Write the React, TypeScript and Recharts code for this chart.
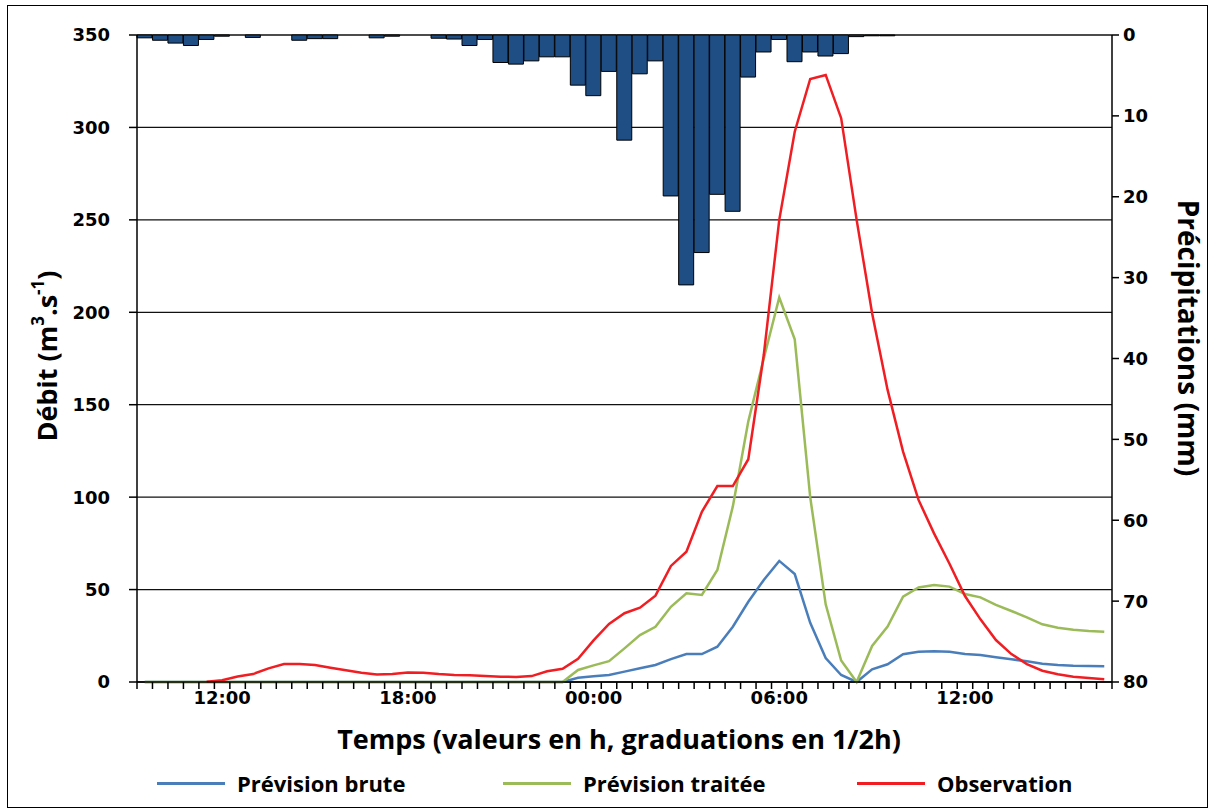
import React from 'react';
import { ComposedChart, Bar, Line, XAxis, YAxis, CartesianGrid, Legend } from 'recharts';

const times = [
  '09:30', '10:00', '10:30', '11:00', '11:30', '12:00', '12:30', '13:00', '13:30', '14:00',
  '14:30', '15:00', '15:30', '16:00', '16:30', '17:00', '17:30', '18:00', '18:30', '19:00',
  '19:30', '20:00', '20:30', '21:00', '21:30', '22:00', '22:30', '23:00', '23:30', '00:00',
  '00:30', '01:00', '01:30', '02:00', '02:30', '03:00', '03:30', '04:00', '04:30', '05:00',
  '05:30', '06:00', '06:30', '07:00', '07:30', '08:00', '08:30', '09:00', '09:30', '10:00',
  '10:30', '11:00', '11:30', '12:00', '12:30', '13:00', '13:30', '14:00', '14:30', '15:00',
  '15:30', '16:00', '16:30',
];

// Précipitations (mm) per half hour
const precipitation = [
  0.35, 0.65, 1.0, 1.3, 0.55, 0.15, 0, 0.3, 0, 0,
  0.65, 0.45, 0.45, 0, 0, 0.35, 0.15, 0, 0, 0.4,
  0.5, 1.3, 0.55, 3.4, 3.6, 3.2, 2.7, 2.7, 6.2, 7.5,
  4.5, 13.0, 4.8, 3.2, 19.9, 30.9, 26.9, 19.7, 21.8, 5.2,
  2.1, 0.55, 3.3, 2.1, 2.6, 2.3, 0.2, 0.1, 0.1, 0,
  0, 0, 0, 0, 0, 0, 0, 0, 0, 0,
  0, 0, 0,
];

// Débit (m3/s)
const prevBrute = [
  0, 0, 0, 0, 0, 0, 0, 0, 0, 0,
  0, 0, 0, 0, 0, 0, 0, 0, 0, 0,
  0, 0, 0, 0, 0, 0, 0, 0, 2.3, 3.1,
  3.8, 5.6, 7.4, 9.2, 12.4, 15.1, 15.1, 19.1, 29.9, 43.4,
  55.2, 65.5, 58.4, 32, 13, 3.8, 0, 6.9, 9.6, 15,
  16.4, 16.7, 16.4, 15.1, 14.6, 13.4, 12.3, 11.2, 9.9, 9.2,
  8.8, 8.6, 8.5,
];

const prevTraitee = [
  0, 0, 0, 0, 0, 0, 0, 0, 0, 0,
  0, 0, 0, 0, 0, 0, 0, 0, 0, 0,
  0, 0, 0, 0, 0, 0, 0, 0, 6.5, 9,
  11.3, 18.2, 25.4, 29.9, 40.7, 48, 47.1, 60.6, 95, 141,
  175, 208, 185.4, 100, 42, 11.6, 0, 19.5, 30, 46.2,
  51.1, 52.5, 51.6, 47.6, 45.8, 41.7, 38.4, 35, 31.2, 29.4,
  28.3, 27.6, 27.2,
];

const observation = [
  null, null, null, null, 0.2, 1, 3, 4.3, 7.4, 9.7,
  9.7, 9.2, 7.7, 6.3, 5, 4, 4.3, 5.2, 5, 4.3,
  3.8, 3.6, 3.2, 2.9, 2.7, 3.2, 5.8, 7.2, 12.6, 22.5,
  31.4, 37.2, 40.2, 46.7, 62.8, 70.5, 92.1, 106, 106, 120.5,
  177, 250, 297.7, 326.2, 328.4, 305, 250, 199.5, 158, 124.6,
  98.5, 80.4, 64, 46.5, 33.9, 22.7, 15.1, 9.7, 6.1, 4.2,
  2.9, 2.2, 1.5,
];

const debitTicks = [0, 50, 100, 150, 200, 250, 300, 350];
const precipTicks = [0, 10, 20, 30, 40, 50, 60, 70, 80];
const labelledTimes = ['12:00', '18:00', '00:00', '06:00'];

const seriesNames = ['Prévision brute', 'Prévision traitée', 'Observation'];
const seriesColors = ['#4A7EBB', '#9BBB59', '#F01E23'];

const data = times.map((t, i) => ({
  t,
  precip: precipitation[i],
  brute: prevBrute[i],
  traitee: prevTraitee[i],
  obs: observation[i],
}));

const TICK_FONT = 'DejaVu Sans, Verdana, sans-serif';
const TITLE_FONT = '"Open Sans", "Noto Sans", sans-serif';

const XTick = (props: any) => {
  const { x, y, payload, index } = props;
  const half = payload && payload.offset ? payload.offset : 7.74;
  const top = y - 9;
  const show = labelledTimes.includes(payload.value);
  return (
    <g>
      <line x1={x - half} x2={x - half} y1={top} y2={top + 7} stroke="#000" strokeWidth={1.5} />
      {index === times.length - 1 && (
        <line x1={x + half} x2={x + half} y1={top} y2={top + 7} stroke="#000" strokeWidth={1.5} />
      )}
      {show && (
        <text
          x={x}
          y={y}
          dy={13}
          textAnchor="middle"
          fill="#000"
          fontFamily={TICK_FONT}
          fontWeight={700}
          fontSize={18}
        >
          {payload.value}
        </text>
      )}
    </g>
  );
};

const LeftTitle = () => (
  <text
    x={0}
    y={0}
    transform="translate(46,356) rotate(-90)"
    textAnchor="middle"
    dominantBaseline="central"
    fill="#000"
    fontFamily={TITLE_FONT}
    fontWeight={700}
    fontSize={27}
  >
    Débit (m
    <tspan dy={-9} fontSize={17}>3</tspan>
    <tspan dy={9}>.s</tspan>
    <tspan dy={-9} fontSize={17}>-1</tspan>
    <tspan dy={9}>)</tspan>
  </text>
);

const RightTitle = () => (
  <text
    x={0}
    y={0}
    transform="translate(1189,338) rotate(90)"
    textAnchor="middle"
    dominantBaseline="central"
    fill="#000"
    fontFamily={TITLE_FONT}
    fontWeight={700}
    fontSize={28}
  >
    Précipitations (mm)
  </text>
);

const BottomTitle = () => (
  <text
    x={619}
    y={738}
    textAnchor="middle"
    dominantBaseline="central"
    fill="#000"
    fontFamily={TITLE_FONT}
    fontWeight={700}
    fontSize={27}
  >
    Temps (valeurs en h, graduations en 1/2h)
  </text>
);

const legendLeft = [157, 503, 857];

const renderLegend = () => (
  <div
    style={{
      position: 'relative',
      width: 1215,
      height: 48,
      fontFamily: TITLE_FONT,
      fontWeight: 700,
      fontSize: 22,
      color: '#000',
    }}
  >
    {seriesNames.map((name, i) => (
      <React.Fragment key={name}>
        <div
          style={{
            position: 'absolute',
            left: legendLeft[i],
            top: 20,
            width: 68,
            height: 3,
            background: seriesColors[i],
          }}
        />
        <div
          style={{
            position: 'absolute',
            left: legendLeft[i] + 80,
            top: 21,
            transform: 'translateY(-50%)',
            lineHeight: 1,
            whiteSpace: 'nowrap',
          }}
        >
          {name}
        </div>
      </React.Fragment>
    ))}
  </div>
);

export default function App() {
  return (
    <div style={{ position: 'absolute', left: 0, top: 0, width: 1215, height: 810, background: '#fff' }}>
      <div style={{ position: 'absolute', left: 0, top: 0 }}>
        <ComposedChart
          width={1215}
          height={810}
          data={data}
          margin={{ top: 35, right: 0, bottom: 0, left: 0 }}
          barCategoryGap={0}
          barGap={0}
        >
          <CartesianGrid yAxisId="q" vertical={false} stroke="#111" strokeWidth={1.3} />
          <XAxis
            dataKey="t"
            type="category"
            interval={0}
            height={80}
            tickSize={7}
            tickMargin={2}
            tickLine={false}
            axisLine={{ stroke: '#000', strokeWidth: 1.5 }}
            tick={XTick}
            label={BottomTitle}
          />
          <YAxis
            yAxisId="q"
            domain={[0, 350]}
            ticks={debitTicks}
            interval={0}
            width={137}
            tickSize={8}
            tickMargin={19}
            axisLine={{ stroke: '#000', strokeWidth: 1.5 }}
            tickLine={{ stroke: '#000', strokeWidth: 1.5 }}
            tick={{ fill: '#000', fontFamily: TICK_FONT, fontWeight: 700, fontSize: 18 }}
            label={LeftTitle}
          />
          <YAxis
            yAxisId="p"
            orientation="right"
            reversed
            domain={[0, 80]}
            ticks={precipTicks}
            interval={0}
            width={103}
            tickSize={7}
            tickMargin={4}
            axisLine={{ stroke: '#000', strokeWidth: 1.5 }}
            tickLine={{ stroke: '#000', strokeWidth: 1.5 }}
            tick={{ fill: '#000', fontFamily: TICK_FONT, fontWeight: 700, fontSize: 18 }}
            label={RightTitle}
          />
          <Bar
            yAxisId="p"
            dataKey="precip"
            name="Précipitations"
            fill="#1F4E85"
            stroke="#000"
            strokeWidth={1}
            legendType="none"
            isAnimationActive={false}
          />
          <Line
            yAxisId="q"
            type="linear"
            dataKey="brute"
            name={seriesNames[0]}
            stroke={seriesColors[0]}
            strokeWidth={2.5}
            dot={false}
            activeDot={false}
            isAnimationActive={false}
          />
          <Line
            yAxisId="q"
            type="linear"
            dataKey="traitee"
            name={seriesNames[1]}
            stroke={seriesColors[1]}
            strokeWidth={2.5}
            dot={false}
            activeDot={false}
            isAnimationActive={false}
          />
          <Line
            yAxisId="q"
            type="linear"
            dataKey="obs"
            name={seriesNames[2]}
            stroke={seriesColors[2]}
            strokeWidth={2.5}
            dot={false}
            activeDot={false}
            isAnimationActive={false}
          />
          <Legend
            verticalAlign="bottom"
            wrapperStyle={{ left: 0, width: 1215, height: 48 }}
            content={renderLegend}
          />
        </ComposedChart>
      </div>
      <div
        style={{
          position: 'absolute',
          left: 7,
          top: 5,
          width: 1201,
          height: 803,
          border: '1px solid #000',
          boxSizing: 'border-box',
          pointerEvents: 'none',
        }}
      />
    </div>
  );
}
